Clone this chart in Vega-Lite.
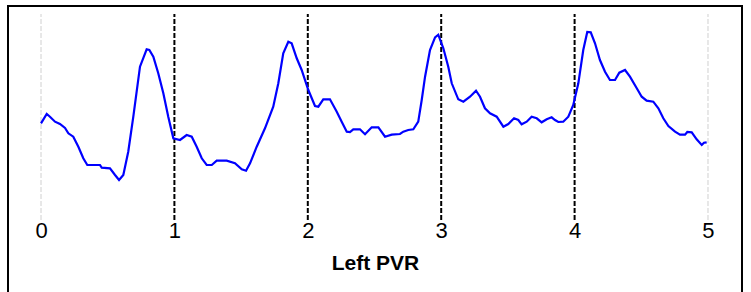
{
  "$schema": "https://vega.github.io/schema/vega-lite/v6.json",
  "autosize": "none",
  "width": 734,
  "height": 289,
  "padding": {"left": 8, "top": 6, "right": 9, "bottom": -3},
  "background": "white",
  "config": {
    "view": {"stroke": "black", "strokeWidth": 2},
    "font": "Liberation Sans"
  },
  "datasets": {
    "wave": [
      {"t": 0, "v": 96.7}, {"t": 0.043, "v": 106}, {"t": 0.067, "v": 103.3}, {"t": 0.105, "v": 98.3},
      {"t": 0.142, "v": 96}, {"t": 0.18, "v": 92}, {"t": 0.205, "v": 86.7}, {"t": 0.242, "v": 83.3},
      {"t": 0.28, "v": 73.3}, {"t": 0.317, "v": 61.7}, {"t": 0.347, "v": 55}, {"t": 0.442, "v": 55},
      {"t": 0.455, "v": 52.3}, {"t": 0.517, "v": 51.7}, {"t": 0.555, "v": 45}, {"t": 0.585, "v": 40},
      {"t": 0.617, "v": 45}, {"t": 0.654, "v": 68.3}, {"t": 0.692, "v": 103.3}, {"t": 0.742, "v": 153.3},
      {"t": 0.792, "v": 170.7}, {"t": 0.812, "v": 170}, {"t": 0.842, "v": 163.3}, {"t": 0.879, "v": 146.7},
      {"t": 0.917, "v": 126.7}, {"t": 0.954, "v": 103.3}, {"t": 0.992, "v": 81.7}, {"t": 1.042, "v": 80},
      {"t": 1.092, "v": 85}, {"t": 1.13, "v": 83.3}, {"t": 1.167, "v": 73.3}, {"t": 1.205, "v": 61.7},
      {"t": 1.242, "v": 55}, {"t": 1.28, "v": 55}, {"t": 1.317, "v": 59.3}, {"t": 1.392, "v": 59.3},
      {"t": 1.454, "v": 56.7}, {"t": 1.505, "v": 50.7}, {"t": 1.537, "v": 49.3}, {"t": 1.567, "v": 56.7},
      {"t": 1.617, "v": 73.3}, {"t": 1.679, "v": 91.7}, {"t": 1.741, "v": 113.3}, {"t": 1.779, "v": 136.7},
      {"t": 1.816, "v": 166.7}, {"t": 1.854, "v": 178.3}, {"t": 1.879, "v": 176.7}, {"t": 1.917, "v": 161.7},
      {"t": 1.954, "v": 150}, {"t": 2.004, "v": 130}, {"t": 2.054, "v": 114}, {"t": 2.079, "v": 113.3},
      {"t": 2.116, "v": 120.7}, {"t": 2.166, "v": 120.7}, {"t": 2.217, "v": 108.3}, {"t": 2.254, "v": 98.3},
      {"t": 2.292, "v": 88.3}, {"t": 2.316, "v": 88}, {"t": 2.341, "v": 90.7}, {"t": 2.391, "v": 90.7},
      {"t": 2.429, "v": 85.7}, {"t": 2.479, "v": 92.7}, {"t": 2.529, "v": 92.7}, {"t": 2.579, "v": 83.3},
      {"t": 2.629, "v": 85.3}, {"t": 2.691, "v": 86}, {"t": 2.716, "v": 88.3}, {"t": 2.753, "v": 90},
      {"t": 2.791, "v": 90.7}, {"t": 2.828, "v": 98.3}, {"t": 2.854, "v": 120}, {"t": 2.879, "v": 143.3},
      {"t": 2.916, "v": 170}, {"t": 2.954, "v": 182.7}, {"t": 2.978, "v": 185.3}, {"t": 3.016, "v": 171.7},
      {"t": 3.053, "v": 153.3}, {"t": 3.079, "v": 136.7}, {"t": 3.128, "v": 120.7}, {"t": 3.166, "v": 118.3},
      {"t": 3.216, "v": 123.3}, {"t": 3.261, "v": 129.3}, {"t": 3.291, "v": 123.3}, {"t": 3.328, "v": 111.7},
      {"t": 3.366, "v": 106.7}, {"t": 3.416, "v": 103.3}, {"t": 3.466, "v": 93.3}, {"t": 3.503, "v": 96},
      {"t": 3.546, "v": 101.7}, {"t": 3.578, "v": 100}, {"t": 3.603, "v": 95.7}, {"t": 3.641, "v": 98.3},
      {"t": 3.678, "v": 103.3}, {"t": 3.716, "v": 101.7}, {"t": 3.753, "v": 97.7}, {"t": 3.791, "v": 100.7},
      {"t": 3.828, "v": 102.7}, {"t": 3.853, "v": 100}, {"t": 3.878, "v": 98}, {"t": 3.915, "v": 98.3},
      {"t": 3.953, "v": 103.3}, {"t": 3.99, "v": 115}, {"t": 4.028, "v": 136.7}, {"t": 4.065, "v": 170},
      {"t": 4.095, "v": 188}, {"t": 4.121, "v": 187.7}, {"t": 4.153, "v": 176.7}, {"t": 4.19, "v": 160},
      {"t": 4.228, "v": 148.3}, {"t": 4.265, "v": 140}, {"t": 4.303, "v": 140}, {"t": 4.335, "v": 147.3},
      {"t": 4.378, "v": 150}, {"t": 4.415, "v": 143.3}, {"t": 4.466, "v": 131.7}, {"t": 4.503, "v": 123.3},
      {"t": 4.54, "v": 119.3}, {"t": 4.59, "v": 118.3}, {"t": 4.628, "v": 111.7}, {"t": 4.665, "v": 101.7},
      {"t": 4.703, "v": 94}, {"t": 4.753, "v": 88.3}, {"t": 4.79, "v": 85.3}, {"t": 4.828, "v": 85.3},
      {"t": 4.845, "v": 88}, {"t": 4.878, "v": 87.7}, {"t": 4.915, "v": 80.7}, {"t": 4.953, "v": 75},
      {"t": 4.97, "v": 77.3}, {"t": 4.99, "v": 77.7}
    ],
    "marks": [
      {"t": 0, "kind": "edge", "lo": 0, "hi": 206}, {"t": 5, "kind": "edge", "lo": 0, "hi": 206},
      {"t": 1, "kind": "beat", "lo": 0, "hi": 206}, {"t": 2, "kind": "beat", "lo": 0, "hi": 206},
      {"t": 3, "kind": "beat", "lo": 0, "hi": 206}, {"t": 4, "kind": "beat", "lo": 0, "hi": 206}
    ]
  },
  "encoding": {
    "x": {
      "field": "t", "type": "quantitative",
      "scale": {"domain": [-0.2474, 5.2549], "nice": false, "zero": false},
      "axis": {
        "values": [0, 1, 2, 3, 4, 5], "format": "d", "grid": false, "domain": false, "ticks": false,
        "offset": -75, "labelPadding": 0, "labelFontSize": 22, "labelColor": "black", "labelFlush": false,
        "title": "Left PVR", "titleFontSize": 21, "titleFontWeight": "bold", "titleColor": "black", "titlePadding": 11
      }
    }
  },
  "layer": [
    {
      "data": {"name": "marks"},
      "transform": [{"filter": "datum.kind == 'edge'"}],
      "mark": {"type": "rule", "color": "#d0d0d0", "strokeWidth": 1, "strokeDash": [5, 2]},
      "encoding": {
        "y": {"field": "lo", "type": "quantitative", "scale": {"domain": [-75, 214], "nice": false, "zero": false}, "axis": null},
        "y2": {"field": "hi"}
      }
    },
    {
      "data": {"name": "marks"},
      "transform": [{"filter": "datum.kind == 'beat'"}],
      "mark": {"type": "rule", "color": "black", "strokeWidth": 2, "strokeDash": [5, 2]},
      "encoding": {
        "y": {"field": "lo", "type": "quantitative", "scale": {"domain": [-75, 214], "nice": false, "zero": false}, "axis": null},
        "y2": {"field": "hi"}
      }
    },
    {
      "data": {"name": "wave"},
      "mark": {"type": "line", "color": "#0000ff", "strokeWidth": 2.2},
      "encoding": {
        "y": {"field": "v", "type": "quantitative", "scale": {"domain": [-75, 214], "nice": false, "zero": false}, "axis": null}
      }
    }
  ]
}
